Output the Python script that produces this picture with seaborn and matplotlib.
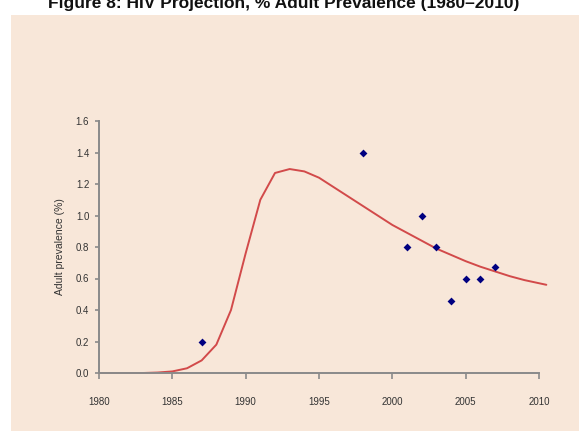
import matplotlib
matplotlib.use("Agg")
import matplotlib.pyplot as plt
import seaborn as sns
import pandas as pd
from matplotlib.patches import Rectangle

# ---- data ----
curve_years = [1980, 1981, 1982, 1983, 1984, 1985, 1986, 1987, 1988, 1989,
               1990, 1991, 1992, 1993, 1994, 1995, 1996, 1997, 1998, 1999,
               2000, 2001, 2002, 2003, 2004, 2005, 2006, 2007, 2008, 2009,
               2010, 2010.5]
curve_prev = [0.0, 0.0, 0.0, 0.0, 0.003, 0.01, 0.03, 0.08, 0.18, 0.40,
              0.76, 1.10, 1.27, 1.295, 1.28, 1.24, 1.18, 1.12, 1.06, 1.00,
              0.94, 0.89, 0.84, 0.79, 0.75, 0.71, 0.675, 0.645, 0.615, 0.59,
              0.57, 0.56]

survey_years = [1987, 1998, 2001, 2002, 2003, 2004, 2005, 2006, 2007]
survey_prev = [0.20, 1.40, 0.80, 1.00, 0.80, 0.46, 0.60, 0.60, 0.67]

x_ticks = [1980, 1985, 1990, 1995, 2000, 2005, 2010]
y_ticks = [0.0, 0.2, 0.4, 0.6, 0.8, 1.0, 1.2, 1.4, 1.6]

title = "Figure 8: HIV Projection, % Adult Prevalence (1980\u20132010)"
y_label = "Adult prevalence (%)"

curve_df = pd.DataFrame({"year": curve_years, "prev": curve_prev})
survey_df = pd.DataFrame({"year": survey_years, "prev": survey_prev})

# ---- style ----
sns.set_style("ticks")
plt.rcParams["font.family"] = ["Liberation Sans", "DejaVu Sans"]
bg = "#F8E7D9"
axis_grey = "#8A8A8A"

fig = plt.figure(figsize=(5.79, 4.33), dpi=100)
fig.patch.set_facecolor("white")
fig.patches.append(Rectangle((11 / 579, 2 / 433), 1 - 11 / 579, 1 - 17 / 433,
                             transform=fig.transFigure, facecolor=bg,
                             edgecolor="none", zorder=-10))

# title sits half off the top edge, as in the source scan
fig.text(0.49, 1 - 8 / 433, title, ha="center", va="baseline",
         fontsize=12.5, fontweight="bold", color="#111111")

ax = fig.add_axes([99 / 579, 1 - 373 / 433, 440 / 579, 252 / 433])
ax.set_facecolor(bg)

sns.lineplot(data=curve_df, x="year", y="prev", ax=ax, color="#D24A4A",
             linewidth=1.4, clip_on=False, zorder=2)
sns.scatterplot(data=survey_df, x="year", y="prev", ax=ax, marker="D",
                color="#000080", s=16, linewidth=0, zorder=3)

ax.set_xlim(1980, 2010)
ax.set_ylim(0, 1.6)
ax.set_xticks(x_ticks)
ax.set_yticks(y_ticks)
ax.set_yticklabels([f"{v:.1f}" for v in y_ticks])
ax.set_xlabel("")
ax.set_ylabel(y_label, fontsize=7.5, color="#333333", labelpad=8)

for side in ["top", "right"]:
    ax.spines[side].set_visible(False)
for side in ["left", "bottom"]:
    ax.spines[side].set_color(axis_grey)
    ax.spines[side].set_linewidth(1.4)

ax.tick_params(axis="x", direction="out", length=4, width=1.2,
               color=axis_grey, labelsize=7, labelcolor="#333333", pad=13)
ax.tick_params(axis="y", direction="out", length=3, width=1.2,
               color=axis_grey, labelsize=7, labelcolor="#333333", pad=4)

fig.savefig("out.png", dpi=100, facecolor=fig.get_facecolor())
